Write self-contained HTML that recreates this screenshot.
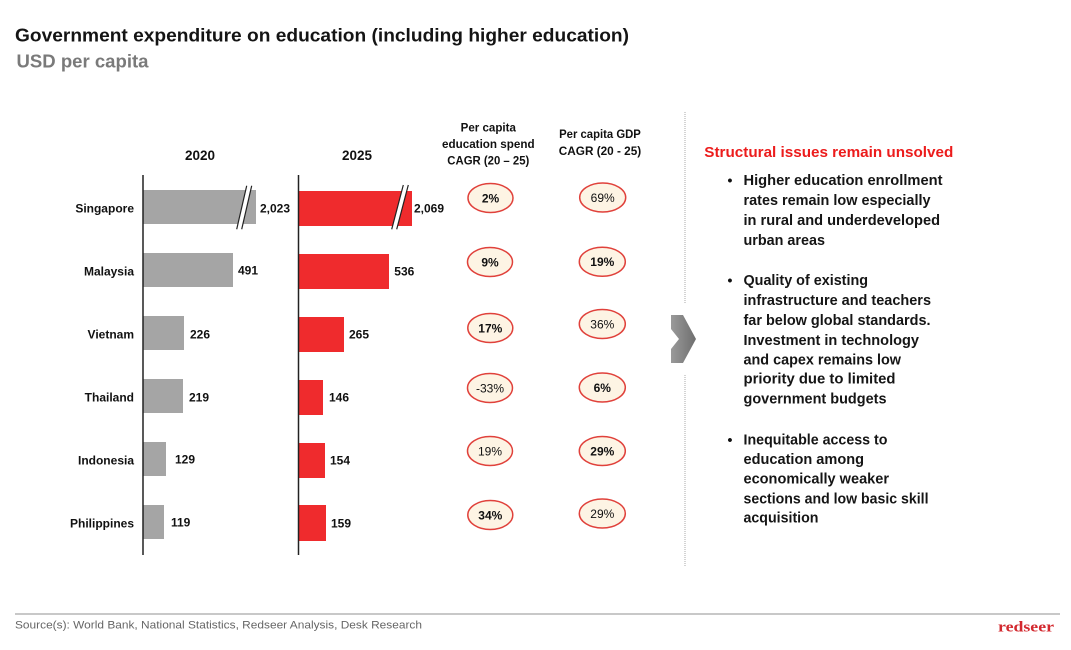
<!DOCTYPE html>
<html>
<head>
<meta charset="utf-8">
<style>
  html,body{margin:0;padding:0;background:#fff;}
  svg{display:block;}
  text{font-family:"Liberation Sans",Arial,sans-serif;}
</style>
</head>
<body>
<svg width="1071" height="650" viewBox="0 0 1071 650" xmlns="http://www.w3.org/2000/svg">
  <defs>
    <linearGradient id="chev" x1="0" y1="0" x2="1" y2="0">
      <stop offset="0" stop-color="#9a9a9a"/>
      <stop offset="1" stop-color="#6e6e6e"/>
    </linearGradient>
  </defs>
  <rect width="1071" height="650" fill="#fff"/>

  <!-- Title -->
  <text x="15" y="41.5" font-size="18.5" font-weight="bold" fill="#141414" textLength="614" lengthAdjust="spacingAndGlyphs">Government expenditure on education (including higher education)</text>
  <text x="16.5" y="67.5" font-size="18" font-weight="bold" fill="#7a7a7a" textLength="132" lengthAdjust="spacingAndGlyphs">USD per capita</text>

  <!-- Column headers -->
  <g font-size="13.5" font-weight="bold" fill="#111" text-anchor="middle">
    <text x="200" y="160">2020</text>
    <text x="357" y="160">2025</text>
  </g>
  <g font-size="11.5" font-weight="bold" fill="#111" text-anchor="middle">
    <text x="488.3" y="131.5" textLength="55.3" lengthAdjust="spacingAndGlyphs">Per capita</text>
    <text x="488.3" y="148" textLength="92.6" lengthAdjust="spacingAndGlyphs">education spend</text>
    <text x="488.3" y="164.5" textLength="82" lengthAdjust="spacingAndGlyphs">CAGR (20 – 25)</text>
    <text x="600" y="138" textLength="81.7" lengthAdjust="spacingAndGlyphs">Per capita GDP</text>
    <text x="600" y="155" textLength="82.4" lengthAdjust="spacingAndGlyphs">CAGR (20 -  25)</text>
  </g>

  <!-- Country labels -->
  <g font-size="12" font-weight="bold" fill="#111" text-anchor="end">
    <text x="134" y="212.3">Singapore</text>
    <text x="134" y="275.3">Malaysia</text>
    <text x="134" y="338.3">Vietnam</text>
    <text x="134" y="401.3">Thailand</text>
    <text x="134" y="464.3">Indonesia</text>
    <text x="134" y="527.3">Philippines</text>
  </g>

  <!-- 2020 bars -->
  <g fill="#a5a5a5">
    <rect x="143" y="190" width="113" height="34"/>
    <rect x="143" y="253" width="90" height="34"/>
    <rect x="143" y="316" width="41" height="34"/>
    <rect x="143" y="379" width="40" height="34"/>
    <rect x="143" y="442" width="23" height="34"/>
    <rect x="143" y="505" width="21" height="34"/>
  </g>
  <!-- 2025 bars -->
  <g fill="#ef2b2d">
    <rect x="299" y="191" width="113" height="35"/>
    <rect x="299" y="254" width="90" height="35"/>
    <rect x="299" y="317" width="45" height="35"/>
    <rect x="299" y="380" width="24" height="35"/>
    <rect x="299" y="443" width="26" height="35"/>
    <rect x="299" y="505" width="27" height="36"/>
  </g>

  <!-- Axis break marks -->
  <polygon points="246.7,185.7 251.7,185.7 241.7,229.3 236.7,229.3" fill="#fff"/>
  <line x1="246.7" y1="185.7" x2="236.7" y2="229.3" stroke="#222" stroke-width="1.2"/>
  <line x1="251.7" y1="185.7" x2="241.7" y2="229.3" stroke="#222" stroke-width="1.2"/>
  <polygon points="403.3,185 408.3,185 396.7,229.3 391.7,229.3" fill="#fff"/>
  <line x1="403.3" y1="185" x2="391.7" y2="229.3" stroke="#222" stroke-width="1.2"/>
  <line x1="408.3" y1="185" x2="396.7" y2="229.3" stroke="#222" stroke-width="1.2"/>

  <!-- Axis lines -->
  <line x1="143" y1="175" x2="143" y2="555" stroke="#222" stroke-width="1.5"/>
  <line x1="298.5" y1="175" x2="298.5" y2="555" stroke="#222" stroke-width="1.5"/>

  <!-- Value labels -->
  <g font-size="12" font-weight="bold" fill="#111">
    <text x="260" y="212.3">2,023</text>
    <text x="238" y="274.3">491</text>
    <text x="190" y="338.3">226</text>
    <text x="189" y="401.3">219</text>
    <text x="175" y="463.3">129</text>
    <text x="171" y="526.3">119</text>
    <text x="414" y="212.3">2,069</text>
    <text x="394.3" y="275.3">536</text>
    <text x="349" y="338.3">265</text>
    <text x="329" y="401.3">146</text>
    <text x="330" y="464.3">154</text>
    <text x="331" y="527.3">159</text>
  </g>

  <!-- Ellipses -->
  <g fill="#fdf4e4" stroke="#e0413b" stroke-width="1.5">
    <ellipse cx="490.5" cy="198" rx="22.5" ry="14.5"/>
    <ellipse cx="490" cy="262" rx="22.5" ry="14.5"/>
    <ellipse cx="490.3" cy="328" rx="22.5" ry="14.5"/>
    <ellipse cx="490" cy="388" rx="22.5" ry="14.5"/>
    <ellipse cx="490" cy="451" rx="22.5" ry="14.5"/>
    <ellipse cx="490.3" cy="515" rx="22.5" ry="14.5"/>
    <ellipse cx="602.7" cy="197.5" rx="23" ry="14.5"/>
    <ellipse cx="602.3" cy="261.7" rx="23" ry="14.5"/>
    <ellipse cx="602.3" cy="324" rx="23" ry="14.5"/>
    <ellipse cx="602.3" cy="387.5" rx="23" ry="14.5"/>
    <ellipse cx="602.3" cy="451" rx="23" ry="14.5"/>
    <ellipse cx="602.3" cy="513.5" rx="23" ry="14.5"/>
  </g>
  <g font-size="12" fill="#111" text-anchor="middle">
    <text x="490.5" y="202.3" font-weight="bold">2%</text>
    <text x="490" y="266.3" font-weight="bold">9%</text>
    <text x="490.3" y="332.3" font-weight="bold">17%</text>
    <text x="490" y="392.3">-33%</text>
    <text x="490" y="455.3">19%</text>
    <text x="490.3" y="519.3" font-weight="bold">34%</text>
    <text x="602.7" y="201.8">69%</text>
    <text x="602.3" y="266" font-weight="bold">19%</text>
    <text x="602.3" y="328.3">36%</text>
    <text x="602.3" y="391.8" font-weight="bold">6%</text>
    <text x="602.3" y="455.3" font-weight="bold">29%</text>
    <text x="602.3" y="517.8">29%</text>
  </g>

  <!-- Dotted divider -->
  <line x1="685" y1="112" x2="685" y2="303" stroke="#a8a8a8" stroke-width="1" stroke-dasharray="1,1"/>
  <line x1="685" y1="375" x2="685" y2="566" stroke="#a8a8a8" stroke-width="1" stroke-dasharray="1,1"/>

  <!-- Chevron -->
  <polygon points="671,315 683,315 696,339 683,363 671,363 671,349 679,339 671,329" fill="url(#chev)"/>

  <!-- Right panel -->
  <text x="704.3" y="157" font-size="15.2" font-weight="bold" fill="#ec1c1c" textLength="249" lengthAdjust="spacingAndGlyphs">Structural issues remain unsolved</text>
  <g font-size="14" font-weight="bold" fill="#111" text-anchor="middle">
    <text x="730" y="185">•</text>
    <text x="730" y="285">•</text>
    <text x="730" y="444.3">•</text>
  </g>
  <g font-size="14.5" font-weight="bold" fill="#151515">
    <text x="743.5" y="185" textLength="199" lengthAdjust="spacingAndGlyphs">Higher education enrollment</text>
    <text x="743.5" y="205" textLength="187" lengthAdjust="spacingAndGlyphs">rates remain low especially</text>
    <text x="743.5" y="225" textLength="196.5" lengthAdjust="spacingAndGlyphs">in rural and underdeveloped</text>
    <text x="743.5" y="245" textLength="81.5" lengthAdjust="spacingAndGlyphs">urban areas</text>
    <text x="743.5" y="285" textLength="124.5" lengthAdjust="spacingAndGlyphs">Quality of existing</text>
    <text x="743.5" y="305" textLength="187.5" lengthAdjust="spacingAndGlyphs">infrastructure and teachers</text>
    <text x="743.5" y="325" textLength="187" lengthAdjust="spacingAndGlyphs">far below global standards.</text>
    <text x="743.5" y="345" textLength="175.5" lengthAdjust="spacingAndGlyphs">Investment in technology</text>
    <text x="743.5" y="364.5" textLength="157.5" lengthAdjust="spacingAndGlyphs">and capex remains low</text>
    <text x="743.5" y="383.5" textLength="152" lengthAdjust="spacingAndGlyphs">priority due to limited</text>
    <text x="743.5" y="403.3" textLength="143" lengthAdjust="spacingAndGlyphs">government budgets</text>
    <text x="743.5" y="444.3" textLength="144" lengthAdjust="spacingAndGlyphs">Inequitable access to</text>
    <text x="743.5" y="464" textLength="120.5" lengthAdjust="spacingAndGlyphs">education among</text>
    <text x="743.5" y="483.3" textLength="145.5" lengthAdjust="spacingAndGlyphs">economically weaker</text>
    <text x="743.5" y="503.3" textLength="185" lengthAdjust="spacingAndGlyphs">sections and low basic skill</text>
    <text x="743.5" y="522.7" textLength="75" lengthAdjust="spacingAndGlyphs">acquisition</text>
  </g>

  <!-- Footer -->
  <line x1="15" y1="614" x2="1060" y2="614" stroke="#b5b5b5" stroke-width="1.5"/>
  <text x="15" y="628.5" font-size="11" fill="#666" textLength="407" lengthAdjust="spacingAndGlyphs">Source(s): World Bank, National Statistics, Redseer Analysis, Desk Research</text>
  <text x="998" y="631.5" font-size="15" font-weight="bold" fill="#d3292f" style="font-family:'Liberation Serif',serif" textLength="56" lengthAdjust="spacingAndGlyphs">redseer</text>
</svg>
</body>
</html>
